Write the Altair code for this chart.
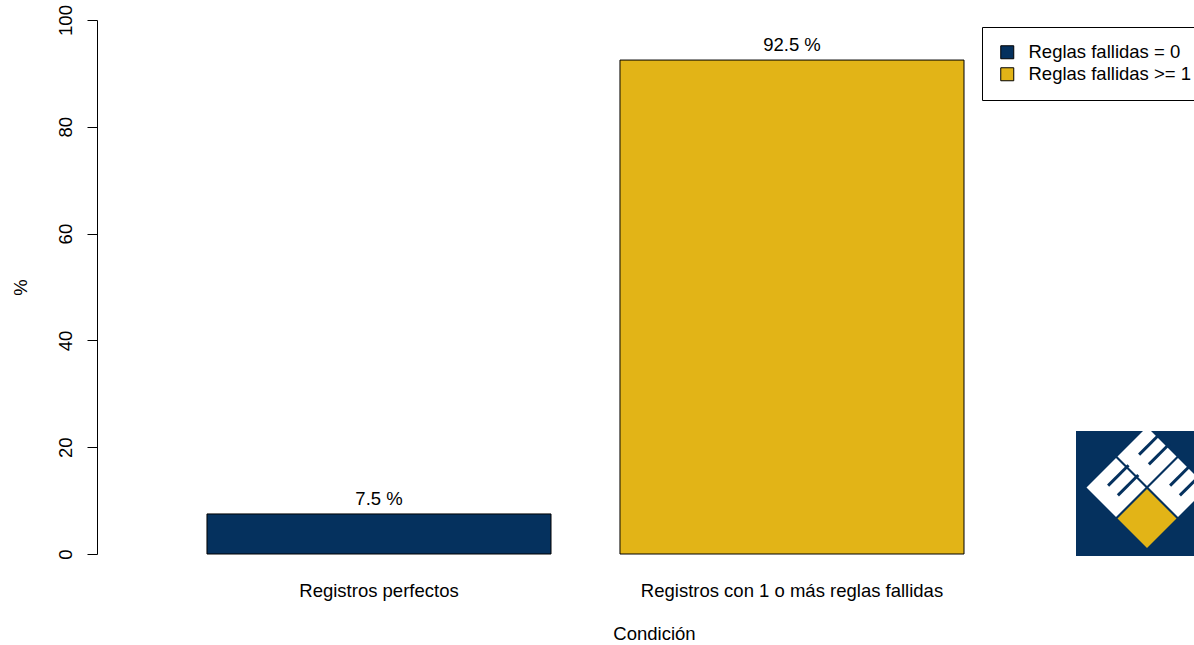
import altair as alt
import pandas as pd

categories = ["Registros perfectos", "Registros con 1 o más reglas fallidas"]
groups = ["Reglas fallidas = 0", "Reglas fallidas >= 1"]
values = [7.5, 92.5]
colors = ["#05315E", "#E2B417"]
y_ticks = [0, 20, 40, 60, 80, 100]

df = pd.DataFrame({
    "cat": categories,
    "grupo": groups,
    "pct": values,
    "label": [f"{v} %" for v in values],
})

FONT = "Liberation Sans"
FS = 18.5
W, H = 1097, 534
NAVY, GOLD = colors

x_enc = alt.X(
    "cat:N", sort=categories,
    scale=alt.Scale(paddingInner=0.167, paddingOuter=0.4116, align=0.3235),
    axis=alt.Axis(title="Condición", labelAngle=0, domain=False, ticks=False, tickSize=0,
                  labelPadding=42, labelBaseline="alphabetic", labelFontSize=FS, labelLimit=0,
                  labelFont=FONT, labelColor="black", titleFont=FONT, titleFontSize=FS,
                  titleFontWeight="normal", titleColor="black", titleBaseline="alphabetic",
                  titleY=85, titleX=557, titleAlign="center"),
)
y_enc = alt.Y(
    "pct:Q", scale=alt.Scale(domain=[0, 100], nice=False, zero=True),
    axis=alt.Axis(title="%", values=y_ticks, grid=False, domainColor="black", tickColor="black",
                  tickSize=10, labelAngle=-90, labelAlign="center", labelBaseline="alphabetic",
                  labelPadding=16, labelFontSize=FS, labelFont=FONT, labelColor="black",
                  titleFont=FONT, titleFontSize=FS, titleFontWeight="normal", titleColor="black",
                  titleAngle=-90, titleX=-77, titleY=H / 2, titleAlign="center",
                  titleBaseline="middle"),
)

bars = alt.Chart(df).mark_bar(stroke="black", strokeWidth=1).encode(
    x=x_enc, y=y_enc,
    color=alt.Color("grupo:N", scale=alt.Scale(domain=groups, range=colors),
                    legend=alt.Legend(title=None)),
)
texts = alt.Chart(df).mark_text(font=FONT, fontSize=FS, baseline="alphabetic", dy=-9,
                                color="black").encode(
    x=alt.X("cat:N", sort=categories), y="pct:Q", text="label:N")

# logo (decoration), positions in plot pixel coordinates
logo_df = pd.DataFrame({"k": [0]})
base = alt.Chart(logo_df)
logo_bg = base.mark_rect(color=NAVY).encode(
    x=alt.value(979), x2=alt.value(1120), y=alt.value(411), y2=alt.value(536))
ox, oy = 97, 20
diam = []
for (cx, cy, col) in [(1116, 487.5, "white"), (1147, 456.5, "white"),
                      (1178, 487.5, "white"), (1147, 518.5, GOLD)]:
    diam.append(base.mark_point(shape="diamond", filled=True, opacity=1, size=3481,
                                color=col, strokeWidth=0).encode(
        x=alt.value(cx - ox), y=alt.value(cy - oy)))
slits = []
for (cx, cy) in [(1116, 487.5), (1147, 456.5), (1178, 487.5)]:
    for (a, b, c, d) in [(-7.9, -1.9, 12.5, -22.3), (1.9, 7.9, 22.3, -12.5)]:
        slits.append(base.mark_rule(color=NAVY, strokeWidth=3).encode(
            x=alt.value(cx + a - ox), y=alt.value(cy + b - oy),
            x2=alt.value(cx + c - ox), y2=alt.value(cy + d - oy)))

chart = alt.layer(bars, texts, logo_bg, *diam, *slits).properties(
    width=W, height=H,
    autosize=alt.AutoSizeParams(type="none"),
    padding={"left": 97, "top": 20, "right": 0, "bottom": 91},
).configure_view(stroke=None).configure_legend(
    orient="none", legendX=885, legendY=7, strokeColor="black", strokeWidth=1,
    fillColor="white", padding=16, cornerRadius=0, symbolType="square", symbolSize=169,
    symbolStrokeColor="black", symbolStrokeWidth=1, symbolOpacity=1, labelLimit=0,
    labelFontSize=FS, labelFont=FONT, labelColor="black", rowPadding=3, labelOffset=12,
)

chart.save("out.html", embed_options={"renderer": "svg", "actions": False})
